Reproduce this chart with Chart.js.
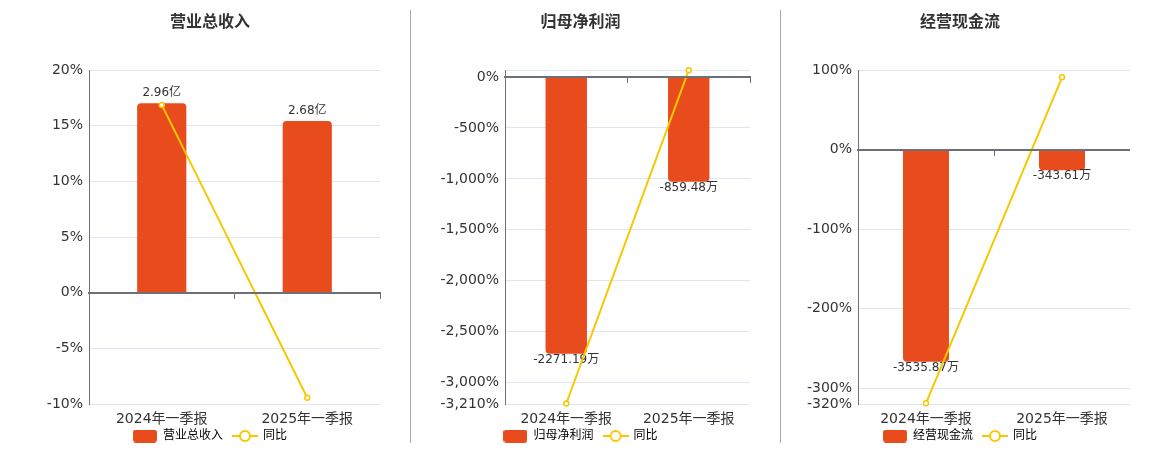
<!DOCTYPE html>
<html>
<head>
<meta charset="utf-8">
<script src="https://cdn.jsdelivr.net/npm/chart.js@4.4.1/dist/chart.umd.min.js"></script>
<style>
html,body{margin:0;padding:0;background:#fff;overflow:hidden;}
body{width:1160px;height:450px;position:relative;}
canvas{position:absolute;top:0;}
.sep{position:absolute;top:10px;width:1px;height:433px;background:#aaaaaa;z-index:5;}
</style>
</head>
<body>
<canvas id="c1" width="420" height="452" style="left:0px"></canvas>
<canvas id="c2" width="341" height="452" style="left:410px"></canvas>
<canvas id="c3" width="340" height="452" style="left:790px"></canvas>
<div class="sep" style="left:410px"></div>
<div class="sep" style="left:780px"></div>
<script>
// ---------------- data ----------------
const categories = ['2024年一季报', '2025年一季报'];

const revenueTitle = '营业总收入';
const revenueValues = [2.96, 2.68];          // 亿
const revenueYoy = [16.88, -9.44];           // %
const revenueTicks = [-10, -5, 0, 5, 10, 15, 20];
const revenueTickLabels = ['-10%', '-5%', '0%', '5%', '10%', '15%', '20%'];

const profitTitle = '归母净利润';
const profitValues = [-2271.19, -859.48];    // 万
const profitYoy = [-3205, 67];               // %
const profitTicks = [-3210, -3000, -2500, -2000, -1500, -1000, -500, 0, 67];
const profitTickLabels = ['-3,210%', '-3,000%', '-2,500%', '-2,000%', '-1,500%', '-1,000%', '-500%', '0%', ''];

const cashTitle = '经营现金流';
const cashValues = [-3535.87, -343.61];      // 万
const cashYoy = [-319, 91];                  // %
const cashTicks = [-320, -300, -200, -100, 0, 100];
const cashTickLabels = ['-320%', '-300%', '-200%', '-100%', '0%', '100%'];

const yoyLabel = '同比';

// ---------------- style ----------------
const FONT = "'DejaVu Sans', 'Noto Sans CJK SC', sans-serif";
const BAR_COLOR = '#e84b1c';
const LINE_COLOR = '#f5c802';
const AXIS_COLOR = '#6e7079';
const GRID_COLOR = '#e0e6f1';
Chart.defaults.font.family = FONT;
Chart.defaults.color = '#333';

function makeBarIcon() {
  const c = document.createElement('canvas');
  c.width = 24; c.height = 13;
  const g = c.getContext('2d');
  g.fillStyle = BAR_COLOR;
  g.beginPath();
  g.roundRect(0, 0, 24, 13, 3);
  g.fill();
  return c;
}
function makeLineIcon() {
  const c = document.createElement('canvas');
  c.width = 26; c.height = 14;
  const g = c.getContext('2d');
  g.strokeStyle = LINE_COLOR;
  g.lineWidth = 2;
  g.beginPath(); g.moveTo(0, 7); g.lineTo(26, 7); g.stroke();
  g.fillStyle = '#fff';
  g.beginPath(); g.arc(13, 7, 5, 0, Math.PI * 2); g.fill(); g.stroke();
  return c;
}
const barIcon = makeBarIcon();
const lineIcon = makeLineIcon();

const barLabelPlugin = {
  id: 'barLabels',
  afterDatasetDraw(chart, args, opts) {
    if (args.index !== 0) return;
    const ctx = chart.ctx;
    const ds = chart.data.datasets[0];
    ctx.save();
    ctx.font = '12px ' + FONT;
    ctx.fillStyle = '#333';
    ctx.textAlign = 'center';
    ctx.textBaseline = 'middle';
    args.meta.data.forEach((bar, i) => {
      const v = ds.data[i];
      const y = v >= 0 ? bar.y - 10 : bar.y + 6;
      ctx.fillText(v.toFixed(2) + opts.unit, bar.x, y);
    });
    ctx.restore();
  }
};

function makeChart(id, cfg) {
  return new Chart(document.getElementById(id), {
    type: 'bar',
    data: {
      labels: categories,
      datasets: [
        {
          type: 'bar',
          label: cfg.title,
          data: cfg.bars,
          backgroundColor: BAR_COLOR,
          borderRadius: 4,
          borderSkipped: 'start',
          categoryPercentage: 1,
          barPercentage: 0.338,
          xAxisID: 'x',
          yAxisID: 'y1',
          order: 1
        },
        {
          type: 'line',
          label: yoyLabel,
          data: cfg.yoy,
          borderColor: LINE_COLOR,
          borderWidth: 2,
          pointRadius: 2.5,
          pointBorderWidth: 1.5,
          pointBackgroundColor: '#fff',
          pointBorderColor: LINE_COLOR,
          tension: 0,
          clip: false,
          xAxisID: 'x',
          yAxisID: 'y',
          order: 0
        }
      ]
    },
    options: {
      responsive: false,
      animation: false,
      events: [],
      layout: { padding: 0, autoPadding: false },
      plugins: {
        title: {
          display: true,
          text: cfg.title,
          color: '#333',
          font: { size: 16, weight: 'bold', family: FONT },
          padding: { top: 13, bottom: 38 }
        },
        legend: {
          position: 'bottom',
          labels: {
            usePointStyle: true,
            pointStyleWidth: 24,
            boxHeight: 12,
            padding: 10,
            color: '#444',
            font: { size: 12, family: FONT },
            generateLabels: (chart) => [
              { text: chart.data.datasets[0].label, pointStyle: barIcon, fillStyle: BAR_COLOR, strokeStyle: BAR_COLOR, lineWidth: 0, datasetIndex: 0, hidden: false },
              { text: chart.data.datasets[1].label, pointStyle: lineIcon, fillStyle: '#fff', strokeStyle: LINE_COLOR, lineWidth: 0, datasetIndex: 1, hidden: false }
            ]
          }
        },
        tooltip: { enabled: false },
        barLabels: { unit: cfg.unit }
      },
      scales: {
        x: {
          type: 'category',
          position: { y: 0 },
          offset: true,
          grid: { display: true, offset: true, drawOnChartArea: false, drawTicks: true, tickLength: 5, color: AXIS_COLOR, lineWidth: 1 },
          border: { display: true, color: AXIS_COLOR, width: 2, z: 1 },
          ticks: { display: false },
          afterFit: (s) => { s.height = 0; s.paddingLeft = 0; s.paddingRight = 0; }
        },
        xSpace: {
          type: 'category',
          position: 'bottom',
          offset: true,
          grid: { display: false, drawTicks: false },
          border: { display: false },
          ticks: { display: false },
          afterFit: (s) => { s.height = 16; s.paddingLeft = 0; s.paddingRight = 0; }
        },
        xLabels: {
          type: 'category',
          position: { y: cfg.ticks[0] },
          offset: true,
          grid: { display: false, drawTicks: false },
          border: { display: false },
          ticks: { color: '#333', font: { size: 14, family: FONT }, padding: 7, maxRotation: 0, autoSkip: false },
          afterFit: (s) => { s.height = 0; s.paddingLeft = 0; s.paddingRight = 0; }
        },
        y: {
          type: 'linear',
          position: 'left',
          min: cfg.ticks[0],
          max: cfg.ticks[cfg.ticks.length - 1],
          afterBuildTicks: (s) => { s.ticks = cfg.ticks.map(v => ({ value: v })); },
          grid: {
            drawTicks: false,
            color: (c) => (c.tick && c.tick.value === 0) ? 'rgba(0,0,0,0)' : GRID_COLOR,
            lineWidth: 1
          },
          border: { display: true, color: AXIS_COLOR, width: 1 },
          ticks: {
            color: '#333',
            font: { size: 14, family: FONT },
            padding: 6,
            autoSkip: false,
            callback: (v, i) => cfg.tickLabels[i]
          },
          afterFit: (s) => { s.width = cfg.yWidth; }
        },
        y1: {
          type: 'linear',
          position: 'right',
          min: cfg.barMin,
          max: cfg.barMax,
          grid: { display: false, drawTicks: false },
          border: { display: false },
          ticks: { display: false },
          afterFit: (s) => { s.width = cfg.rightWidth; }
        }
      }
    },
    plugins: [barLabelPlugin]
  });
}

makeChart('c1', {
  title: revenueTitle, bars: revenueValues, yoy: revenueYoy, unit: '亿',
  ticks: revenueTicks, tickLabels: revenueTickLabels,
  barMin: -1.7375, barMax: 3.475, yWidth: 89, rightWidth: 40
});
makeChart('c2', {
  title: profitTitle, bars: profitValues, yoy: profitYoy, unit: '万',
  ticks: profitTicks, tickLabels: profitTickLabels,
  barMin: -2684, barMax: 56, yWidth: 95, rightWidth: 1
});
makeChart('c3', {
  title: cashTitle, bars: cashValues, yoy: cashYoy, unit: '万',
  ticks: cashTicks, tickLabels: cashTickLabels,
  barMin: -4240, barMax: 1325, yWidth: 68, rightWidth: 0
});
</script>
</body>
</html>
